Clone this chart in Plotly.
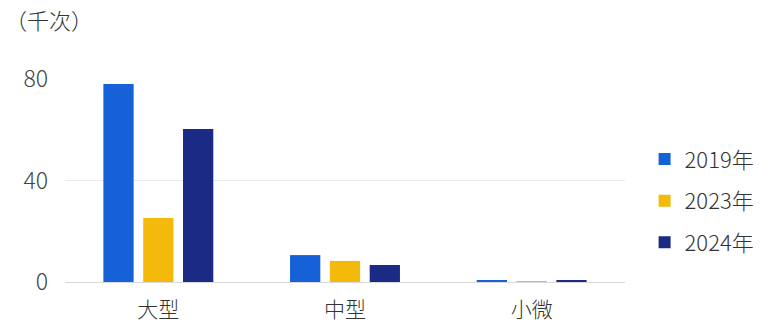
import plotly.graph_objects as go

categories = ["大型", "中型", "小微"]
years = ["2019年", "2023年", "2024年"]
values_2019 = [78.0, 10.6, 0.6]
values_2023 = [25.2, 8.3, 0.3]
values_2024 = [60.3, 6.7, 0.5]
colors = ["#1660D8", "#F3B90B", "#1A2A85"]
y_ticks = [0, 40, 80]

font_family = "Noto Sans CJK SC, Noto Sans, sans-serif"

fig = go.Figure()
for name, vals, col in zip(years, [values_2019, values_2023, values_2024], colors):
    fig.add_trace(go.Bar(x=categories, y=vals, name=name, marker_color=col,
                         marker_line_width=0, legendgroup=name))

fig.update_layout(
    width=762, height=324,
    margin=dict(l=65, r=137, t=79, b=42, autoexpand=False),
    paper_bgcolor="white", plot_bgcolor="white",
    barmode="group", bargap=0.36, bargroupgap=0.24,
    font=dict(family=font_family, size=22, color="#333333", weight=300),
    showlegend=True,
    legend=dict(x=1.035, y=0.40, xanchor="left", yanchor="middle",
                font=dict(size=22, color="#333333", weight=300), itemwidth=30,
                tracegroupgap=10, traceorder="grouped"),
    xaxis=dict(showgrid=False, showline=True, linecolor="#d9d9d9", linewidth=1,
               ticks="", tickfont=dict(size=21, color="#333333", weight=300),
               ticklabelstandoff=9, automargin=False),
    yaxis=dict(range=[0, 80], tickvals=y_ticks, showgrid=True, gridcolor="#ececec",
               gridwidth=1, zeroline=False, showline=False, ticks="",
               tickfont=dict(size=23, color="#444444", weight=300),
               ticklabelstandoff=16, automargin=False),
    annotations=[dict(text="（千次）", x=0, y=1, xref="paper", yref="paper",
                      xanchor="left", yanchor="top", showarrow=False,
                      font=dict(size=22, color="#333333", weight=300),
                      xshift=-62, yshift=78)],
)

fig.write_html("out.html")
